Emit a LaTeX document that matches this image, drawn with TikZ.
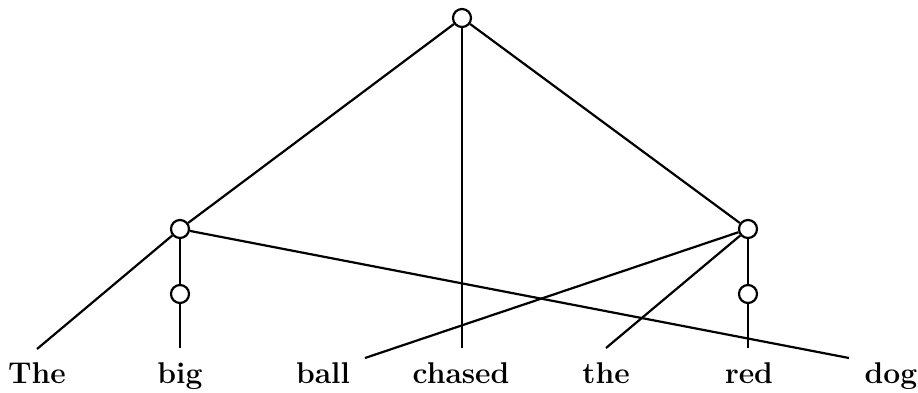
\documentclass[tikz,border=0pt]{standalone}
\usetikzlibrary{positioning}
\tikzset{
    knot/.style={circle, draw, minimum size=18pt, inner sep=0pt,
                 line width=2.2pt},
    word/.style={font=\fontsize{30}{36}\selectfont\bfseries,
                 anchor=base, inner sep=0pt},
    link/.style={-, line width=2.2pt},
}
\begin{document}
\begin{tikzpicture}[x=1pt, y=-1pt]
    \useasboundingbox (0,0) rectangle (918,392);
    % tree nodes
    \node[knot] (S)   at (462,18)  {};
    \node[knot] (L)   at (180,229) {};
    \node[knot] (R)   at (748,229) {};
    \node[knot] (Lb)  at (180,294) {};
    \node[knot] (Rb)  at (748,294) {};
    % words
    \node[word] (wThe)    at (37,383)  {The};
    \node[word] (wBig)    at (180,383) {big};
    \node[word] (wBall)   at (323,383) {ball};
    \node[word] (wChased) at (461,383) {chased};
    \node[word] (wthe)    at (606,383) {the};
    \node[word] (wRed)    at (749,383) {red};
    \node[word] (wDog)    at (891,383) {dog};
    % line ends above the words
    \coordinate (eThe)    at (37,349);
    \coordinate (eBig)    at (180,348);
    \coordinate (eBall)   at (365,358);
    \coordinate (eChased) at (462,348);
    \coordinate (ethe)    at (606,348);
    \coordinate (eRed)    at (748,348);
    \coordinate (eDog)    at (849,358);
    % connectors
    \draw[link] (S) -- (L);
    \draw[link] (S) -- (R);
    \draw[link] (S) -- (eChased);
    \draw[link] (L) -- (eThe);
    \draw[link] (L) -- (Lb);
    \draw[link] (Lb) -- (eBig);
    \draw[link] (L) -- (eDog);
    \draw[link] (R) -- (eBall);
    \draw[link] (R) -- (ethe);
    \draw[link] (R) -- (Rb);
    \draw[link] (Rb) -- (eRed);
\end{tikzpicture}
\end{document}
